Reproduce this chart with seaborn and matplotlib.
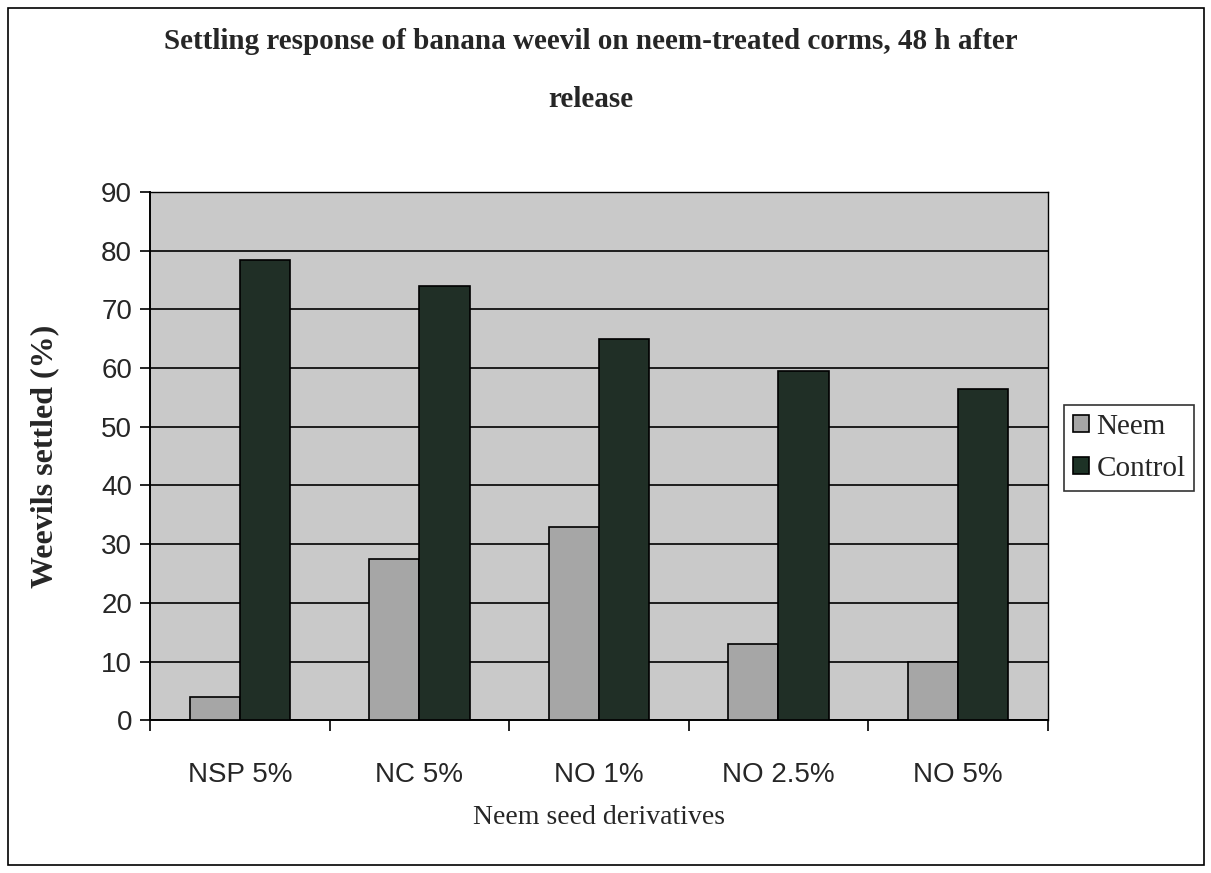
import matplotlib
matplotlib.use("Agg")
import matplotlib.pyplot as plt
import seaborn as sns
import pandas as pd
import numpy as np
from matplotlib.patches import Rectangle

categories = ["NSP 5%", "NC 5%", "NO 1%", "NO 2.5%", "NO 5%"]
neem = [4, 27.5, 33, 13, 10]
control = [78.5, 74, 65, 59.5, 56.5]
series = ["Neem", "Control"]
yticks = list(range(0, 91, 10))

df = pd.DataFrame({
    "cat": categories * 2,
    "val": neem + control,
    "series": ["Neem"] * len(categories) + ["Control"] * len(categories),
})

sns.set_theme(style="white")
plt.rcParams["font.family"] = ["Liberation Serif", "DejaVu Serif"]

fig = plt.figure(figsize=(12.11, 8.73), dpi=100)
fig.patches.append(Rectangle((0.007, 0.009), 0.987, 0.982, transform=fig.transFigure,
                             fill=False, edgecolor="black", linewidth=1.2))
ax = fig.add_axes([0.124, 0.175, 0.741, 0.605])
ax.set_facecolor("#c9c9c9")

palette = {"Neem": "#a6a6a6", "Control": "#1d3226"}
sns.barplot(data=df, x="cat", y="val", hue="series", hue_order=series, order=categories,
            palette=palette, width=0.56, edgecolor="black", linewidth=1.2, ax=ax,
            legend=False, zorder=3)

ax.set_ylim(0, 90)
ax.set_xlim(-0.5, len(categories) - 0.5)
ax.set_yticks(yticks)
ax.set_yticklabels([str(t) for t in yticks], fontfamily="Liberation Sans", fontsize=20)
ax.yaxis.grid(True, color="black", linewidth=1.2, zorder=0)
ax.set_axisbelow(True)
ax.set_xticks(np.arange(len(categories)))
ax.set_xticklabels(categories, fontfamily="Liberation Sans", fontsize=20)
ax.tick_params(axis="x", length=0, pad=30)
ax.set_xticks(np.arange(len(categories) + 1) - 0.5, minor=True)
ax.tick_params(axis="x", which="minor", length=8, width=1.2, color="black", bottom=True)
ax.tick_params(axis="y", length=7, width=1.2, color="black", left=True, pad=6)
for s in ["left", "bottom"]:
    ax.spines[s].set_color("black")
    ax.spines[s].set_linewidth(1.4)
for s in ["top", "right"]:
    ax.spines[s].set_color("black")
    ax.spines[s].set_linewidth(1.0)

ax.set_xlabel("Neem seed derivatives", fontsize=20, labelpad=12)
ax.set_ylabel("Weevils settled (%)", fontsize=23, fontweight="bold", labelpad=30)

fig.text(0.488, 0.968, "Settling response of banana weevil on neem-treated corms, 48 h after\nrelease",
         ha="center", va="top", fontsize=21, fontweight="bold", linespacing=2.5)

handles = [Rectangle((0, 0), 1, 1, facecolor=palette[s], edgecolor="black", linewidth=1.2) for s in series]
leg = fig.legend(handles, series, loc="center left", bbox_to_anchor=(0.874, 0.487),
                 frameon=True, fontsize=21, handlelength=0.55, handleheight=0.55,
                 handletextpad=0.25, borderpad=0.3, borderaxespad=0.2, labelspacing=0.55,
                 fancybox=False)
leg.get_frame().set_edgecolor("black")
leg.get_frame().set_linewidth(1.2)

fig.savefig("out.png", dpi=100, facecolor="white")
